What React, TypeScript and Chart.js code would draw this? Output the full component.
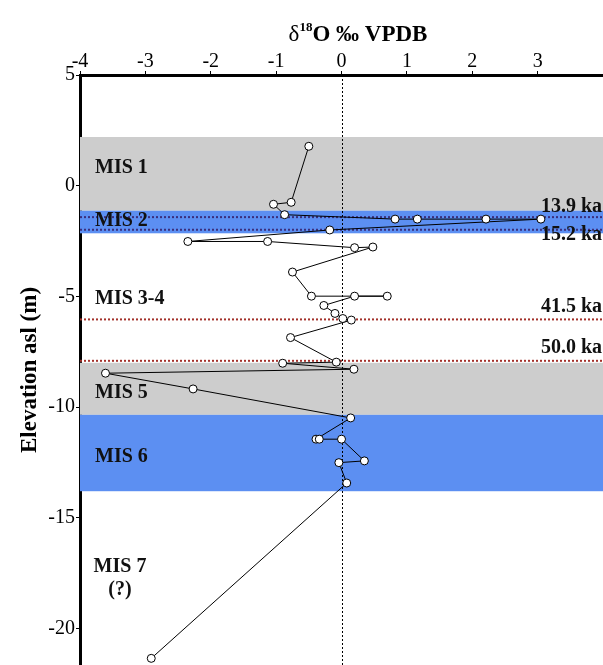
import { useEffect, useRef } from 'react';
import { Chart, registerables } from 'chart.js';
Chart.register(...registerables);

// δ18O (‰ VPDB) and sample elevation (m asl), in stratigraphic order
const d18O = [-0.50, -0.77, -1.04, -0.87, 0.82, 1.16, 2.21, 3.05, -0.18, -2.35, -1.13, 0.20, 0.48, -0.75, -0.46, 0.70, 0.20, -0.27, -0.10, 0.02, 0.15, -0.78, -0.08, -0.90, 0.19, -3.61, -2.27, 0.14, -0.39, -0.34, 0.00, 0.35, -0.04, 0.08, -2.91];
const elevation = [1.78, -0.75, -0.84, -1.31, -1.51, -1.51, -1.51, -1.51, -2.00, -2.52, -2.52, -2.80, -2.77, -3.90, -4.99, -4.99, -4.99, -5.41, -5.77, -6.00, -6.07, -6.86, -7.97, -8.02, -8.29, -8.47, -9.18, -10.49, -11.45, -11.45, -11.45, -12.43, -12.51, -13.43, -21.35];

const xTickValues = [-4, -3, -2, -1, 0, 1, 2, 3];
const yTickValues = [5, 0, -5, -10, -15, -20];

// MIS shaded bands
const bandTops = [2.2, -1.13, -8.0, -10.35];
const bandBottoms = [-1.13, -2.15, -10.35, -13.8];
const bandColors = ['#cdcdcd', '#5c8ff2', '#cdcdcd', '#5c8ff2'];

// age boundaries
const ageLabels = ['13.9 ka', '15.2 ka', '41.5 ka', '50.0 ka'];
const ageLineElevations = [-1.42, -1.99, -6.04, -7.91];
const ageLabelElevations = [-0.95, -2.2, -5.47, -7.32];
const ageLineColors = ['#3b2f7c', '#3b2f7c', '#a3302a', '#a3302a'];

const misLabels = ['MIS 1', 'MIS 2', 'MIS 3-4', 'MIS 5', 'MIS 6', 'MIS 7', '(?)'];
const misLabelElevations = [0.81, -1.58, -5.1, -9.36, -12.25, -17.2, -18.26];

const SERIF = '"Liberation Serif", "DejaVu Serif", serif';

const decor = {
  id: 'decor',
  beforeDatasetsDraw(chart: any) {
    const { ctx, chartArea: a, scales } = chart;
    const x = scales.x, y = scales.y;
    ctx.save();
    ctx.beginPath();
    ctx.rect(a.left, a.top, a.right - a.left, a.bottom - a.top);
    ctx.clip();
    for (let i = 0; i < bandTops.length; i++) {
      const t = y.getPixelForValue(bandTops[i]);
      const b = y.getPixelForValue(bandBottoms[i]);
      ctx.fillStyle = bandColors[i];
      ctx.fillRect(a.left, t, a.right - a.left, b - t);
    }
    // zero line
    ctx.strokeStyle = '#000';
    ctx.lineWidth = 1;
    ctx.setLineDash([2, 2]);
    const x0 = Math.round(x.getPixelForValue(0)) + 0.5;
    ctx.beginPath();
    ctx.moveTo(x0, a.top);
    ctx.lineTo(x0, a.bottom);
    ctx.stroke();
    // age lines
    ctx.lineWidth = 2;
    ctx.setLineDash([2, 2]);
    for (let i = 0; i < ageLineElevations.length; i++) {
      const py = y.getPixelForValue(ageLineElevations[i]);
      ctx.strokeStyle = ageLineColors[i];
      ctx.beginPath();
      ctx.moveTo(a.left, py);
      ctx.lineTo(a.right, py);
      ctx.stroke();
    }
    ctx.setLineDash([]);
    // MIS labels
    ctx.fillStyle = '#111';
    ctx.font = `bold 20px ${SERIF}`;
    ctx.textBaseline = 'middle';
    for (let i = 0; i < misLabels.length; i++) {
      const py = y.getPixelForValue(misLabelElevations[i]);
      if (i >= 5) {
        ctx.textAlign = 'center';
        ctx.fillText(misLabels[i], a.left + 40, py);
      } else {
        ctx.textAlign = 'left';
        ctx.fillText(misLabels[i], a.left + 15, py);
      }
    }
    // age labels
    ctx.textAlign = 'left';
    for (let i = 0; i < ageLabels.length; i++) {
      const py = y.getPixelForValue(ageLabelElevations[i]);
      ctx.fillText(ageLabels[i], x.getPixelForValue(3.05), py);
    }
    ctx.restore();
  },
  afterDraw(chart: any) {
    const { ctx, chartArea: a } = chart;
    ctx.save();
    ctx.fillStyle = '#000';
    ctx.textBaseline = 'alphabetic';
    // top title: δ18O ‰ VPDB
    const p1 = 'δ', p2 = '18', p3 = 'O ‰ VPDB';
    ctx.font = `23px ${SERIF}`;
    const w1 = ctx.measureText(p1).width;
    ctx.font = `bold 13px ${SERIF}`;
    const w2 = ctx.measureText(p2).width;
    ctx.font = `bold 23px ${SERIF}`;
    const w3 = ctx.measureText(p3).width;
    const total = w1 + w2 + w3;
    let sx = 358 - total / 2;
    const base = 41;
    ctx.textAlign = 'left';
    ctx.font = `23px ${SERIF}`;
    ctx.fillText(p1, sx, base);
    sx += w1;
    ctx.font = `bold 13px ${SERIF}`;
    ctx.fillText(p2, sx, base - 10);
    sx += w2;
    ctx.font = `bold 23px ${SERIF}`;
    ctx.fillText(p3, sx, base);
    // y title
    ctx.translate(30, (a.top + a.bottom) / 2);
    ctx.rotate(-Math.PI / 2);
    ctx.textAlign = 'center';
    ctx.textBaseline = 'middle';
    ctx.font = `bold 23px ${SERIF}`;
    ctx.fillText('Elevation asl (m)', 0, 0);
    ctx.restore();
  },
};

const zeroPad = (s: any) => {
  s.paddingLeft = 0;
  s.paddingRight = 0;
  s.paddingTop = 0;
  s.paddingBottom = 0;
};

export default function App() {
  const ref = useRef<HTMLCanvasElement>(null);
  useEffect(() => {
    document.body.style.margin = '0';
    const chart = new Chart(ref.current as HTMLCanvasElement, {
      type: 'scatter',
      data: {
        datasets: [
          {
            data: d18O.map((v, i) => ({ x: v, y: elevation[i] })),
            showLine: true,
            borderColor: '#000',
            borderWidth: 1,
            pointRadius: 4,
            pointBackgroundColor: '#fff',
            pointBorderColor: '#000',
            pointBorderWidth: 1,
            tension: 0,
            clip: false,
          },
        ],
      },
      options: {
        animation: false,
        responsive: false,
        devicePixelRatio: 1,
        layout: { padding: 0, autoPadding: false },
        plugins: { legend: { display: false }, tooltip: { enabled: false }, title: { display: false } },
        scales: {
          x: {
            type: 'linear',
            position: 'top',
            min: -4,
            max: 4,
            afterBuildTicks: (s: any) => { s.ticks = xTickValues.map((v) => ({ value: v })); },
            afterFit: (s: any) => { s.height = 75; zeroPad(s); },
            border: { display: true, width: 3, color: '#000' },
            grid: { drawOnChartArea: false, drawTicks: true, tickLength: 4, color: '#000' },
            ticks: { color: '#000', font: { family: SERIF, size: 20 }, padding: -3, maxRotation: 0 },
          },
          y: {
            type: 'linear',
            min: -21.65,
            max: 5,
            afterBuildTicks: (s: any) => { s.ticks = yTickValues.map((v) => ({ value: v })); },
            afterFit: (s: any) => { s.width = 80; zeroPad(s); },
            border: { display: true, width: 3, color: '#000' },
            grid: { drawOnChartArea: false, drawTicks: true, tickLength: 4, color: '#000' },
            ticks: { color: '#000', font: { family: SERIF, size: 20 }, padding: 1 },
          },
        },
      },
      plugins: [decor],
    } as any);
    return () => chart.destroy();
  }, []);
  return <canvas ref={ref} width={603} height={665} style={{ display: 'block' }} />;
}
